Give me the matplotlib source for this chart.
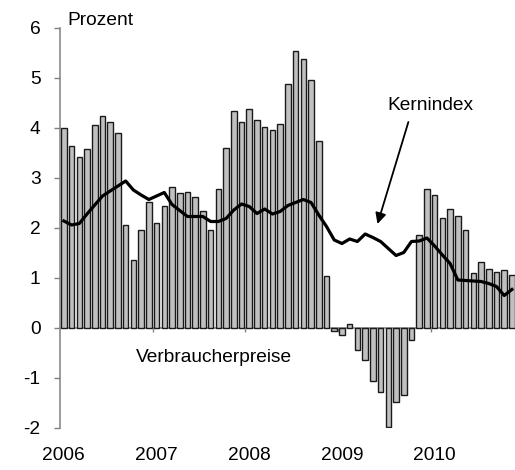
"""Verbraucherpreise vs. Kernindex, monthly 2006-2010, bars plus core line."""

import matplotlib
matplotlib.use("Agg")
import matplotlib.pyplot as plt
import matplotlib.transforms as mtransforms
import numpy as np

YEARS = ["2006", "2007", "2008", "2009", "2010"]

# headline consumer prices, % yoy, Jan 2006 .. Nov 2010
cpi = [
    4.00, 3.64, 3.42, 3.58, 4.06, 4.24, 4.12, 3.90, 2.06, 1.36, 1.96, 2.52,
    2.10, 2.44, 2.82, 2.70, 2.72, 2.62, 2.34, 1.96, 2.78, 3.60, 4.34, 4.12,
    4.38, 4.16, 4.02, 3.96, 4.08, 4.88, 5.54, 5.39, 4.97, 3.74, 1.04, -0.05,
    -0.14, 0.09, -0.43, -0.63, -1.05, -1.27, -1.97, -1.47, -1.34, -0.23, 1.86, 2.78,
    2.66, 2.21, 2.39, 2.25, 1.96, 1.11, 1.33, 1.19, 1.13, 1.17, 1.07,
]

# core index, % yoy
core = [
    2.14, 2.06, 2.09, 2.28, 2.46, 2.64, 2.74, 2.84, 2.94, 2.76, 2.66, 2.57,
    2.64, 2.71, 2.47, 2.35, 2.23, 2.23, 2.23, 2.13, 2.13, 2.19, 2.36, 2.48,
    2.43, 2.29, 2.38, 2.28, 2.33, 2.45, 2.51, 2.57, 2.51, 2.26, 2.03, 1.76,
    1.69, 1.78, 1.73, 1.88, 1.81, 1.73, 1.59, 1.45, 1.51, 1.73, 1.74, 1.80,
    1.64, 1.46, 1.29, 0.96, 0.95, 0.94, 0.93, 0.89, 0.83, 0.65, 0.77,
]

plt.rcParams["font.family"] = ["Liberation Sans", "DejaVu Sans"]
plt.rcParams["axes.unicode_minus"] = False
FS = 13.8
GREY = "#808080"

fig = plt.figure(figsize=(5.15, 4.70), dpi=100)
ax = fig.add_axes([60 / 515, 42 / 470, 455 / 515, 400 / 470])

months = np.arange(len(cpi))
ax.bar(months, cpi, width=0.72, color="#c0c0c0", edgecolor="#1a1a1a",
       linewidth=1.0, zorder=2)
ax.plot(months, core, color="black", linewidth=2.3, zorder=3)

ax.set_xlim(-0.5, 58.4)
ax.set_ylim(-2, 6)

# y axis: grey spine, outward ticks
ax.spines["left"].set_color(GREY)
ax.spines["left"].set_linewidth(1.1)
ax.set_yticks(range(-2, 7))
ax.tick_params(axis="y", direction="out", length=4, width=1, color=GREY,
               labelsize=FS, pad=10)

# x axis sits on zero, small ticks at the year boundaries
ax.spines["bottom"].set_position(("data", 0))
ax.spines["bottom"].set_color(GREY)
ax.spines["bottom"].set_linewidth(1.1)
ax.spines["bottom"].set_zorder(1)
ax.spines["top"].set_visible(False)
ax.spines["right"].set_visible(False)
ax.set_xticks(np.arange(11.5, len(cpi), 12))
ax.set_xticklabels([])
ax.tick_params(axis="x", direction="out", length=3, width=1, color=GREY)

# year labels along the bottom of the figure
trans = mtransforms.blended_transform_factory(ax.transData, fig.transFigure)
for i, year in enumerate(YEARS):
    ax.text(i * 12, 6 / 470, year, transform=trans, ha="center", va="bottom",
            fontsize=FS, clip_on=False)

ax.text(0.5, 6.15, "Prozent", ha="left", va="center", fontsize=FS, clip_on=False)
ax.text(19.4, -0.58, "Verbraucherpreise", ha="center", va="center", fontsize=FS)
ax.text(47.5, 4.46, "Kernindex", ha="center", va="center", fontsize=FS)
ax.annotate("", xy=(40.6, 2.08), xytext=(44.6, 4.12),
            arrowprops=dict(arrowstyle="-|>", color="black", lw=1.3,
                            mutation_scale=16, shrinkA=0, shrinkB=0))

fig.savefig("out.png", dpi=100)
